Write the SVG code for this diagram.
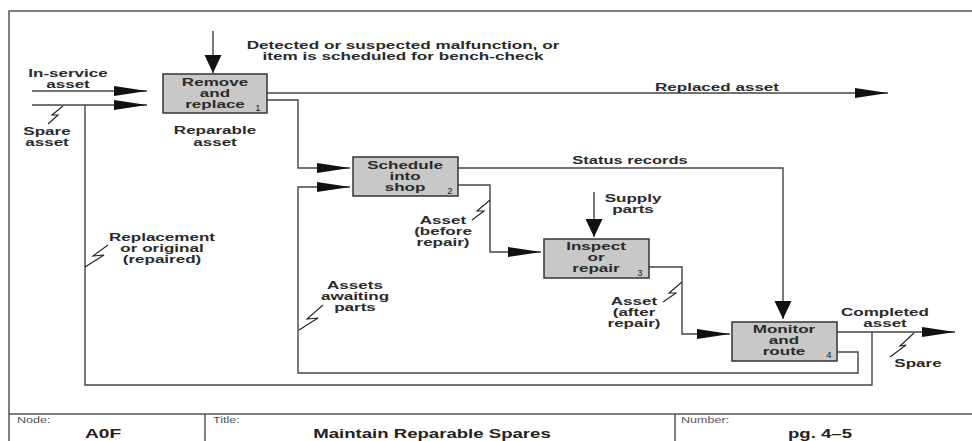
<svg xmlns="http://www.w3.org/2000/svg" width="972" height="441" viewBox="0 0 972 441">
<style>
.bg{fill:#ffffff}
.frame{fill:none;stroke:#555;stroke-width:1.5}
.box{fill:#c8c8c8;stroke:#333;stroke-width:1.5}
.ln{fill:none;stroke:#444;stroke-width:1.4}
.arr{marker-end:url(#ah)}
.arrd{marker-end:url(#av)}
.sq{fill:none;stroke:#222;stroke-width:1.1}
.t{font-family:"Liberation Sans",Arial,sans-serif;font-weight:bold;font-size:11px;fill:#2a2a2a;text-anchor:middle}
.n{font-family:"Liberation Sans",Arial,sans-serif;font-size:9.5px;fill:#222;text-anchor:middle}
.fl{font-family:"Liberation Sans",Arial,sans-serif;font-size:9px;fill:#555}
.fv{font-family:"Liberation Sans",Arial,sans-serif;font-weight:bold;font-size:12px;fill:#222;text-anchor:middle}
</style>
<defs>
<marker id="ah" markerUnits="userSpaceOnUse" markerWidth="34" markerHeight="11" refX="33" refY="5" orient="auto" overflow="visible">
<path d="M0,0 L33,5 L0,10 Z" fill="#111"/>
</marker>
<marker id="av" markerUnits="userSpaceOnUse" markerWidth="19" markerHeight="18" refX="18" refY="8.5" orient="auto" overflow="visible">
<path d="M0,0 L18,8.5 L0,17 Z" fill="#111"/>
</marker>
</defs>
<rect class="bg" x="0" y="0" width="972" height="441"/>
<g id="frame">
<path class="frame" d="M972,11 H9 V441"/>
<path class="frame" d="M9,414 H972 M205,414 V441 M675,414 V441"/>
<text class="fl" transform="translate(17,423) scale(1.4,1)">Node:</text>
<text class="fv" transform="translate(103,438) scale(1.6,1)">A0F</text>
<text class="fl" transform="translate(213,423) scale(1.4,1)">Title:</text>
<text class="fv" transform="translate(432,438) scale(1.55,1)">Maintain Reparable Spares</text>
<text class="fl" transform="translate(681,423) scale(1.4,1)">Number:</text>
<text class="fv" transform="translate(820,438) scale(1.55,1)">pg. 4–5</text>
</g>
<g id="connectors">
<path class="ln arrd" d="M213,31 V73"/>
<path class="ln arr" d="M32,91 H147"/>
<path class="ln arr" d="M32,105 H147"/>
<path class="ln" d="M872,332 V385 H85 V105"/>
<path class="ln arr" d="M267,93 H888"/>
<path class="ln arr" d="M267,100 H298 V168 H350"/>
<path class="ln arrd" d="M458,168 H783 V319"/>
<path class="ln arr" d="M458,185 H490 V252 H541"/>
<path class="ln arrd" d="M594,192 V237"/>
<path class="ln arr" d="M649,267 H682 V334 H730"/>
<path class="ln arr" d="M837,332 H955"/>
<path class="ln arr" d="M837,352 H858 V373 H298 V187 H350"/>
<path class="sq" d="M63,106 L52,115 L58,115 L48,124"/>
<path class="sq" d="M85,267 L104,255 L93,256 L108,245"/>
<path class="sq" d="M299,330 L318,318 L307,319 L323,305"/>
<path class="sq" d="M490,200 L477,211 L484,211 L472,220"/>
<path class="sq" d="M682,282 L669,293 L676,293 L663,302"/>
<path class="sq" d="M914,333 L900,346 L906,345 L890,357"/>
</g>
<g id="labels">
<text class="t" transform="translate(403,49) scale(1.56,1)"><tspan x="0">Detected or suspected malfunction, or</tspan><tspan x="0" dy="11">item is scheduled for bench-check</tspan></text>
<text class="t" transform="translate(68,77) scale(1.55,1)"><tspan x="0">In-service</tspan><tspan x="0" dy="11">asset</tspan></text>
<text class="t" transform="translate(47,135) scale(1.55,1)"><tspan x="0">Spare</tspan><tspan x="0" dy="11">asset</tspan></text>
<text class="t" transform="translate(215,134) scale(1.55,1)"><tspan x="0">Reparable</tspan><tspan x="0" dy="12">asset</tspan></text>
<text class="t" transform="translate(717,91) scale(1.55,1)">Replaced asset</text>
<text class="t" transform="translate(630,164) scale(1.5,1)">Status records</text>
<text class="t" transform="translate(443,224) scale(1.55,1)"><tspan x="0">Asset</tspan><tspan x="0" dy="11">(before</tspan><tspan x="0" dy="11">repair)</tspan></text>
<text class="t" transform="translate(633,202) scale(1.55,1)"><tspan x="0">Supply</tspan><tspan x="0" dy="11">parts</tspan></text>
<text class="t" transform="translate(634,305) scale(1.55,1)"><tspan x="0">Asset</tspan><tspan x="0" dy="11.5">(after</tspan><tspan x="0" dy="11">repair)</tspan></text>
<text class="t" transform="translate(885,316) scale(1.55,1)"><tspan x="0">Completed</tspan><tspan x="0" dy="11">asset</tspan></text>
<text class="t" transform="translate(918,367) scale(1.55,1)">Spare</text>
<text class="t" transform="translate(162,241) scale(1.55,1)"><tspan x="0">Replacement</tspan><tspan x="0" dy="11">or original</tspan><tspan x="0" dy="11">(repaired)</tspan></text>
<text class="t" transform="translate(355,289) scale(1.55,1)"><tspan x="0">Assets</tspan><tspan x="0" dy="11">awaiting</tspan><tspan x="0" dy="11">parts</tspan></text>
</g>
<g id="node1">
<rect class="box" x="163" y="74" width="104" height="39"/>
<text class="t" transform="translate(215,86) scale(1.55,1)"><tspan x="0">Remove</tspan><tspan x="0" dy="11">and</tspan><tspan x="0" dy="11">replace</tspan></text>
<text class="n" x="258" y="111">1</text>
</g>
<g id="node2">
<rect class="box" x="353" y="157" width="105" height="39"/>
<text class="t" transform="translate(405,169) scale(1.55,1)"><tspan x="0">Schedule</tspan><tspan x="0" dy="11">into</tspan><tspan x="0" dy="11">shop</tspan></text>
<text class="n" x="450" y="194">2</text>
</g>
<g id="node3">
<rect class="box" x="544" y="239" width="105" height="39"/>
<text class="t" transform="translate(596,250) scale(1.55,1)"><tspan x="0">Inspect</tspan><tspan x="0" dy="11">or</tspan><tspan x="0" dy="11">repair</tspan></text>
<text class="n" x="640" y="276">3</text>
</g>
<g id="node4">
<rect class="box" x="732" y="322" width="105" height="39"/>
<text class="t" transform="translate(784,333) scale(1.55,1)"><tspan x="0">Monitor</tspan><tspan x="0" dy="11">and</tspan><tspan x="0" dy="11">route</tspan></text>
<text class="n" x="829" y="358">4</text>
</g>
</svg>
